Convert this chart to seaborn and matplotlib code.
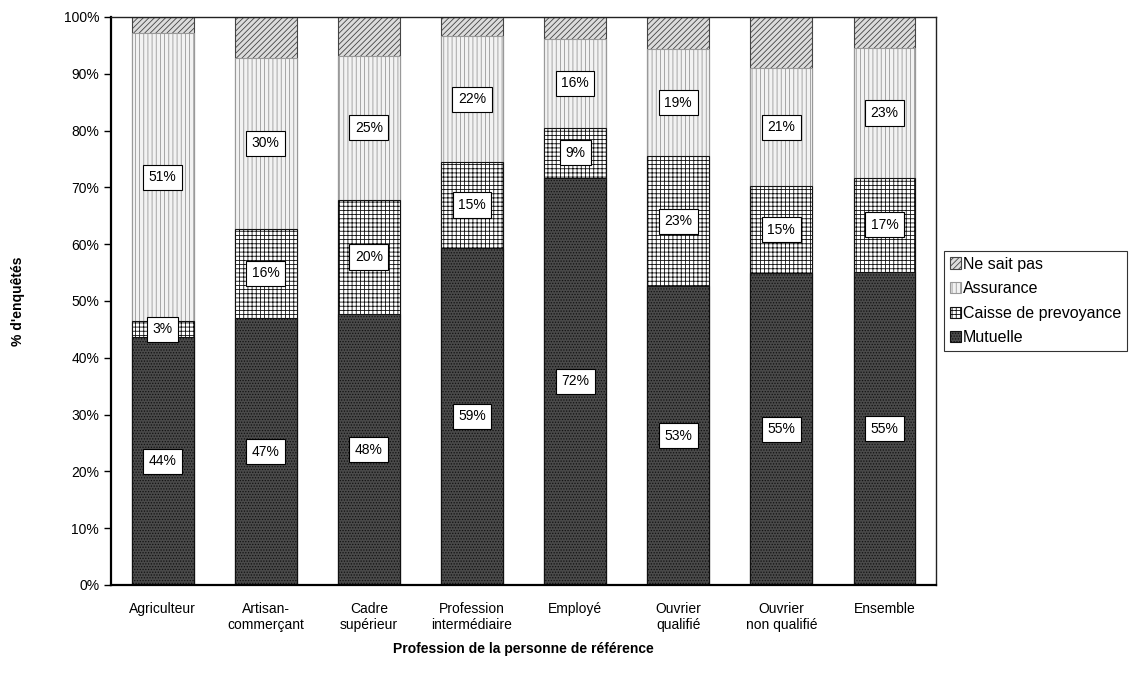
import matplotlib
matplotlib.use("Agg")
import matplotlib.pyplot as plt
import seaborn as sns
import pandas as pd
import numpy as np

categories = ["Agriculteur", "Artisan-\ncommerçant", "Cadre\nsupérieur",
              "Profession\nintermédiaire", "Employé", "Ouvrier\nqualifié",
              "Ouvrier\nnon qualifié", "Ensemble"]
mutuelle = [43.6, 47.0, 47.7, 59.4, 71.7, 52.6, 54.9, 55.1]
caisse = [2.9, 15.7, 20.1, 15.0, 8.8, 22.9, 15.3, 16.6]
assurance = [50.6, 30.1, 25.4, 22.2, 15.6, 18.8, 20.8, 22.8]
ne_sait_pas = [100 - m - c - a for m, c, a in zip(mutuelle, caisse, assurance)]

series_names = ["Mutuelle", "Caisse de prevoyance", "Assurance", "Ne sait pas"]
series_values = [mutuelle, caisse, assurance, ne_sait_pas]

sns.set_theme(style="white")
plt.rcParams["font.family"] = ["Liberation Sans", "DejaVu Sans"]
plt.rcParams["hatch.linewidth"] = 0.6
plt.rcParams["text.color"] = "black"
plt.rcParams["axes.labelcolor"] = "black"
plt.rcParams["xtick.color"] = "black"
plt.rcParams["ytick.color"] = "black"

styles = {
    "Mutuelle": dict(fc="#4a4a4a", ec="#111111", hatch="......"),
    "Caisse de prevoyance": dict(fc="white", ec="#111111", hatch="++++"),
    "Assurance": dict(fc="#f2f2f2", ec="#999999", hatch="||||"),
    "Ne sait pas": dict(fc="#dcdcdc", ec="#444444", hatch="//////"),
}

fig = plt.figure(figsize=(11.3, 6.84), dpi=100)
ax = fig.add_axes([111 / 1130, 99 / 684, 825 / 1130, 568 / 684])

# Stacked bars: draw cumulative totals from the top layer down so each
# lower layer covers the one above it.
cum = np.cumsum(np.array(series_values), axis=0)
df_rows = []
for name, tops in zip(series_names, cum):
    for cat, t in zip(categories, tops):
        df_rows.append({"cat": cat, "serie": name, "top": t})
df = pd.DataFrame(df_rows)

for name in reversed(series_names):
    st = styles[name]
    sub = df[df["serie"] == name]
    sns.barplot(data=sub, x="cat", y="top", order=categories, ax=ax,
                color=st["fc"], saturation=1, width=0.6,
                edgecolor=st["ec"], linewidth=0.8, hatch=st["hatch"],
                label=name, errorbar=None)
if ax.get_legend() is not None:
    ax.get_legend().remove()

# Percentage labels in white boxes at the middle of each labelled segment
for k, name in enumerate(series_names[:3]):
    vals = series_values[k]
    bottoms = cum[k] - np.array(vals)
    for i, v in enumerate(vals):
        ax.text(i, bottoms[i] + v / 2, f"{round(v):.0f}%", ha="center",
                va="center", fontsize=10, color="black",
                bbox=dict(boxstyle="square,pad=0.4", fc="white", ec="black", lw=0.8))

ax.set_xlim(-0.5, len(categories) - 0.5)
ax.set_ylim(0, 100)
ax.set_yticks(np.arange(0, 101, 10))
ax.set_yticklabels([f"{v}%" for v in range(0, 101, 10)], fontsize=10)

ax.set_xticks(np.arange(len(categories)))
ax.set_xticklabels(categories, fontsize=10)
ax.tick_params(axis="x", which="major", length=0, pad=12)
ax.set_xticks(np.arange(-0.5, len(categories)), minor=True)
ax.tick_params(axis="x", which="minor", length=5, width=1, color="black", direction="out")
ax.tick_params(axis="y", length=5, width=1, color="black", direction="out", left=True)

for side in ["left", "bottom"]:
    ax.spines[side].set_color("black")
    ax.spines[side].set_linewidth(1.6)
for side in ["top", "right"]:
    ax.spines[side].set_color("#222222")
    ax.spines[side].set_linewidth(1.0)

ax.set_xlabel("Profession de la personne de référence", fontsize=10,
              fontweight="bold", labelpad=7)
ax.set_ylabel("% d'enquêtés", fontsize=10, fontweight="bold", labelpad=28)

handles, labels = ax.get_legend_handles_labels()
order = [labels.index(n) for n in reversed(series_names)]
leg = fig.legend([handles[i] for i in order], [labels[i] for i in order],
                 loc="upper left", bbox_to_anchor=(944 / 1130, 1 - 251 / 684),
                 fontsize=11.5, frameon=True, fancybox=False, shadow=False,
                 handlelength=0.7, handleheight=0.7, handletextpad=0.15,
                 labelspacing=0.6, borderpad=0.35, borderaxespad=0,
                 edgecolor="black")
leg.get_frame().set_linewidth(0.8)

fig.savefig("out.png", dpi=100, facecolor="white")
